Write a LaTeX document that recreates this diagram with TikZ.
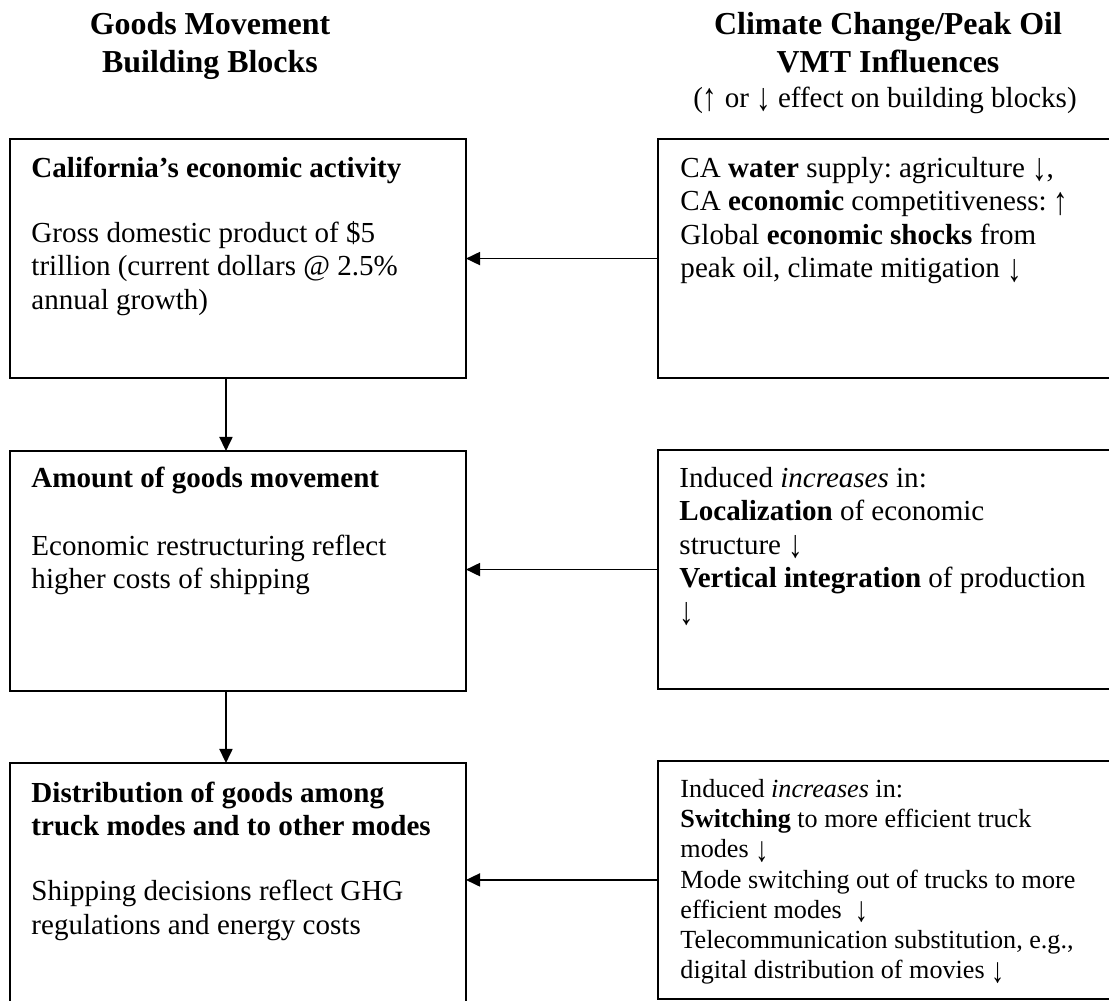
\documentclass[tikz,border=0pt]{standalone}
\usepackage{fontspec}
\usepackage{graphicx}
\setmainfont{Liberation Serif}
\usetikzlibrary{arrows.meta}
\frenchspacing
\newcommand{\dnar}{\raisebox{-0.12em}{\scalebox{1}[1.35]{↓}}}
\newcommand{\upar}{\raisebox{-0.12em}{\scalebox{1}[1.35]{↑}}}
\tikzstyle{lbox}=[rectangle,draw=black,line width=0.9pt,outer sep=0pt,
  inner sep=0pt,anchor=north west,minimum width=188.4pt]
\tikzstyle{rbox}=[rectangle,draw=black,line width=0.9pt,outer sep=0pt,
  inner sep=0pt,anchor=north west,minimum width=195pt]
\tikzstyle{btxt}=[anchor=north west,inner sep=0pt,align=left,
  font=\fontsize{12}{13.8}\selectfont]
\tikzstyle{stxt}=[anchor=north west,inner sep=0pt,align=left,
  font=\fontsize{10.8}{12.5}\selectfont]
\tikzstyle{ttl}=[anchor=north,inner sep=0pt,align=center,
  font=\bfseries\fontsize{13.2}{15.5}\selectfont]
\tikzstyle{arr}=[-{Triangle[length=5.8pt,width=5.4pt]},line width=0.7pt]

\begin{document}
\begin{tikzpicture}[x=0.4132pt,y=-0.4132pt]
    \clip (0,0) rectangle (1109,1001);
    \node [style=ttl] (lttl) at (210,8) {\strut Goods Movement\\Building Blocks};
    \node [style=ttl] (rttl) at (888,8) {\strut Climate Change/Peak Oil\\VMT Influences};
    \node [style=btxt,anchor=north] (rsub) at (885,83.6) {\strut(\upar{} or \dnar{} effect on building blocks)};
    \node [style=lbox,minimum height=98.8pt] (lb1) at (10,139) {};
    \node [style=lbox,minimum height=99.2pt] (lb2) at (10,451) {};
    \node [style=lbox,minimum height=106.2pt] (lb3) at (10,763) {};
    \node [style=rbox,minimum height=98.8pt] (rb1) at (658,139) {};
    \node [style=rbox,minimum height=98.8pt,line width=0.6pt] (rb2) at (658,450) {};
    \node [style=rbox,minimum height=98.3pt,line width=0.6pt] (rb3) at (658,761) {};
    \node [style=btxt] (lt1) at (31,153.6) {\strut\textbf{California's economic activity}\\[13.1pt]
      Gross domestic product of \$5\\ trillion (current dollars @ 2.5\%\\ annual growth)};
    \node [style=btxt] (lt2) at (31,463.6) {\strut\textbf{Amount of goods movement}\\[14.3pt]
      Economic restructuring reflect\\ higher costs of shipping};
    \node [style=btxt] (lt3) at (31,778.6) {\strut\textbf{Distribution of goods among}\\
      \textbf{truck modes and to other modes}\\[13pt]
      Shipping decisions reflect GHG\\ regulations and energy costs};
    \node [style=btxt] (rt1) at (680,153.6) {\strut CA \textbf{water} supply: agriculture \dnar,\\
      CA \textbf{economic} competitiveness: \upar\\ Global \textbf{economic shocks} from\\
      peak oil, climate mitigation \dnar};
    \node [style=btxt] (rt2) at (679,463.6) {\strut Induced \textit{increases} in:\\
      \textbf{Localization} of economic\\ structure \dnar\\
      \textbf{Vertical integration} of production\\ \dnar};
    \node [style=stxt] (rt3) at (680,775.8) {\strut Induced \textit{increases} in:\\
      \textbf{Switching} to more efficient truck\\ modes \dnar\\
      Mode switching out of trucks to more\\ efficient modes\ \ \dnar\\
      Telecommunication substitution, e.g.,\\ digital distribution of movies \dnar};
    \draw [style=arr] (rb1.west) to (rb1.west -| lb1.east);
    \draw [style=arr] (rb2.west) to (rb2.west -| lb2.east);
    \draw [style=arr] (rb3.west) to (rb3.west -| lb3.east);
    \draw [style=arr] ([xshift=-4.96pt]lb1.south) to ([xshift=-4.96pt]lb2.north);
    \draw [style=arr] ([xshift=-4.96pt]lb2.south) to ([xshift=-4.96pt]lb3.north);
\end{tikzpicture}
\end{document}
